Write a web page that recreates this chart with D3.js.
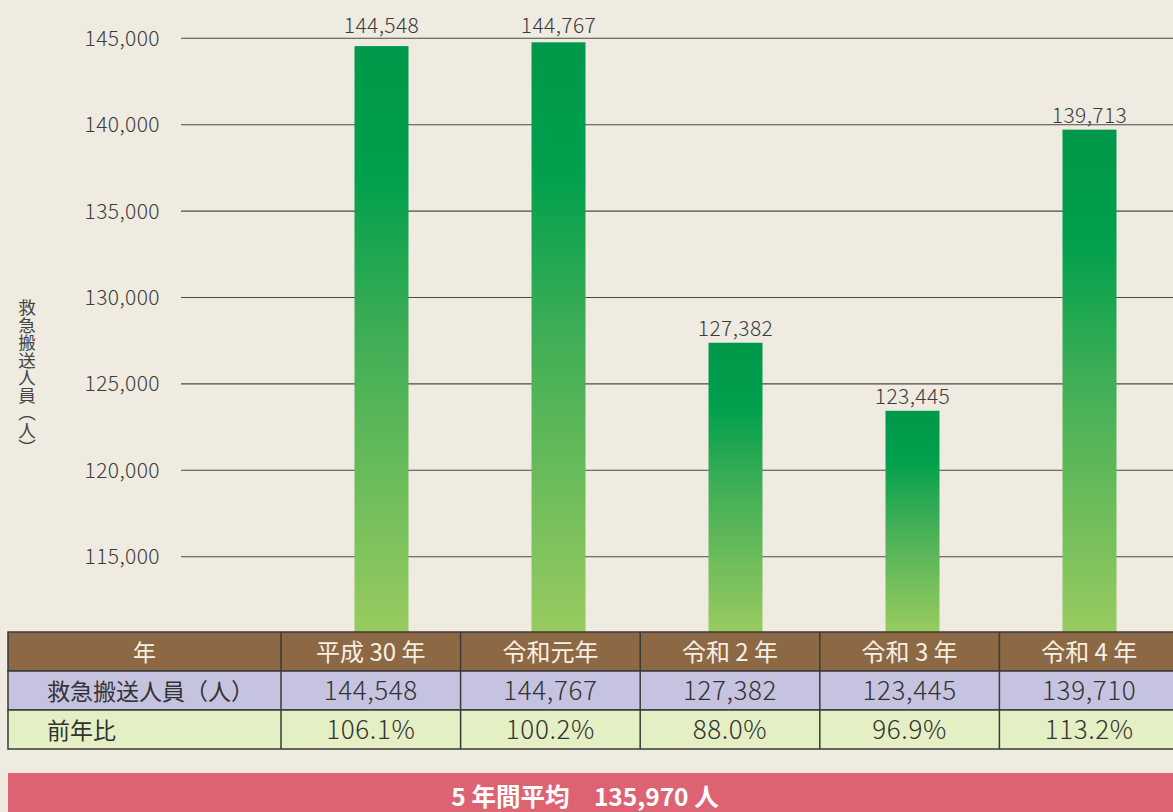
<!DOCTYPE html>
<html>
<head>
<meta charset="utf-8">
<script src="https://cdn.jsdelivr.net/npm/d3@7"></script>
<style>
  html, body { margin: 0; padding: 0; background: #efebe1; overflow: hidden; }
  text { font-family: "Noto Sans CJK JP", "Noto Sans", sans-serif; }
</style>
</head>
<body>
<div id="chart"></div>
<script>
// ------------------------------------------------------------------------ //
// DATA
// ------------------------------------------------------------------------ //

var years = ["平成 30 年", "令和元年", "令和 2 年", "令和 3 年", "令和 4 年"];
var barValues = [144548, 144767, 127382, 123445, 139713];
var tableValues = ["144,548", "144,767", "127,382", "123,445", "139,710"];
var ratios = ["106.1%", "100.2%", "88.0%", "96.9%", "113.2%"];
var yTicks = [115000, 120000, 125000, 130000, 135000, 140000, 145000];
var rowLabels = ["年", "救急搬送人員（人）", "前年比"];
var yLabel = "救急搬送人員（人）";
var average = "5 年間平均　135,970 人";

// ------------------------------------------------------------------------ //
// SVG AREA
// ------------------------------------------------------------------------ //

var W = 1173, H = 812;
var svg = d3.select("#chart")
  .append("svg")
    .attr("width", W)
    .attr("height", H);

var tableTop = 632, rowH = 39, tableLeft = 8, firstColRight = 281;

// scales
var y = d3.scaleLinear()
    .domain([110000, 145000])
    .range([643.1, 38.3]);

var x = d3.scaleBand()
    .domain(years)
    .range([293, 1178])
    .paddingInner(0.695)
    .paddingOuter(0.3475);

var col = d3.scaleBand()
    .domain(years)
    .range([firstColRight, 1179]);

// gradient for bars
var grad = svg.append("defs").append("linearGradient")
    .attr("id", "barGrad")
    .attr("x1", 0).attr("y1", 0).attr("x2", 0).attr("y2", 1);
grad.append("stop").attr("offset", "0").attr("stop-color", "#00984a");
grad.append("stop").attr("offset", "0.22").attr("stop-color", "#00a04d");
grad.append("stop").attr("offset", "0.5").attr("stop-color", "#40ae56");
grad.append("stop").attr("offset", "1").attr("stop-color", "#98cb5f");

// ------------------------------------------------------------------------ //
// GRID AND AXIS LABELS
// ------------------------------------------------------------------------ //

svg.selectAll(".grid")
  .data(yTicks)
  .enter()
  .append("line")
    .attr("x1", 181)
    .attr("x2", W)
    .attr("y1", function(d){ return y(d) })
    .attr("y2", function(d){ return y(d) })
    .style("stroke", "#4a4a4a")
    .style("stroke-width", 1.1);

svg.selectAll(".tick")
  .data(yTicks)
  .enter()
  .append("text")
    .attr("x", 160)
    .attr("y", function(d){ return y(d) + 7.5 })
    .attr("text-anchor", "end")
    .style("font-size", "21px")
    .style("letter-spacing", "0.4px")
    .style("font-weight", 300)
    .style("fill", "#3c3c3c")
    .text(d3.format(","));

// vertical axis title
svg.append("text")
    .attr("x", 27)
    .attr("y", 299)
    .style("writing-mode", "vertical-rl")
    .style("font-size", "17.5px")
    .style("fill", "#444")
    .text(yLabel);

// ------------------------------------------------------------------------ //
// BARS
// ------------------------------------------------------------------------ //

svg.selectAll(".bar")
  .data(barValues)
  .enter()
  .append("rect")
    .attr("x", function(d, i){ return x(years[i]) })
    .attr("width", x.bandwidth())
    .attr("y", function(d){ return y(d) })
    .attr("height", function(d){ return tableTop - y(d) })
    .style("fill", "url(#barGrad)");

// labels of bars touching the top line sit just above it
svg.selectAll(".barLabel")
  .data(barValues)
  .enter()
  .append("text")
    .attr("x", function(d, i){ return x(years[i]) + x.bandwidth()/2 })
    .attr("y", function(d){ return y(d) < y(145000) + 15 ? 33 : y(d) - 7 })
    .attr("text-anchor", "middle")
    .style("font-size", "21px")
    .style("letter-spacing", "0.4px")
    .style("font-weight", 300)
    .style("fill", "#3c3c3c")
    .text(d3.format(","));

// ------------------------------------------------------------------------ //
// TABLE
// ------------------------------------------------------------------------ //

var rowFills = ["#8c6944", "#c6c3e0", "#e4efc3"];
var rows = [years, tableValues, ratios];

rows.forEach(function(cells, r) {
  var top = tableTop + r*rowH;
  svg.append("rect")
    .attr("x", tableLeft).attr("y", top)
    .attr("width", W + 20).attr("height", rowH)
    .style("fill", rowFills[r])
    .style("stroke", "#3a3a3a").style("stroke-width", 1.5);
  svg.append("line")
    .attr("x1", firstColRight).attr("x2", firstColRight)
    .attr("y1", top).attr("y2", top + rowH)
    .style("stroke", "#3a3a3a").style("stroke-width", 1.5);
  svg.append("text")
    .attr("x", r == 0 ? (tableLeft + firstColRight)/2 : 47)
    .attr("y", top + 29)
    .attr("text-anchor", r == 0 ? "middle" : "start")
    .style("font-size", "23px")
    .style("fill", r == 0 ? "#f6f0e4" : "#333")
    .text(rowLabels[r]);
  svg.selectAll(".cell" + r)
    .data(cells)
    .enter()
    .append("g")
    .each(function(d, i) {
      var g = d3.select(this);
      g.append("line")
        .attr("x1", col(years[i]) + col.bandwidth())
        .attr("x2", col(years[i]) + col.bandwidth())
        .attr("y1", top).attr("y2", top + rowH)
        .style("stroke", "#3a3a3a").style("stroke-width", 1.5);
      g.append("text")
        .attr("x", col(years[i]) + col.bandwidth()/2)
        .attr("y", top + 29)
        .attr("text-anchor", "middle")
        .style("font-size", r == 0 ? "24px" : "26px")
        .style("letter-spacing", r == 0 ? "0px" : "0.6px")
        .style("font-weight", r == 0 ? 400 : 300)
        .style("fill", r == 0 ? "#f6f0e4" : "#333")
        .text(d);
    });
});

// ------------------------------------------------------------------------ //
// AVERAGE BANNER
// ------------------------------------------------------------------------ //

svg.append("rect")
    .attr("x", tableLeft).attr("y", 773)
    .attr("width", W).attr("height", 60)
    .style("fill", "#dd6373");

svg.append("text")
    .attr("x", 585)
    .attr("y", 806)
    .attr("text-anchor", "middle")
    .style("font-size", "24.5px")
    .style("font-weight", 700)
    .style("fill", "#fff")
    .text(average);
</script>
</body>
</html>
